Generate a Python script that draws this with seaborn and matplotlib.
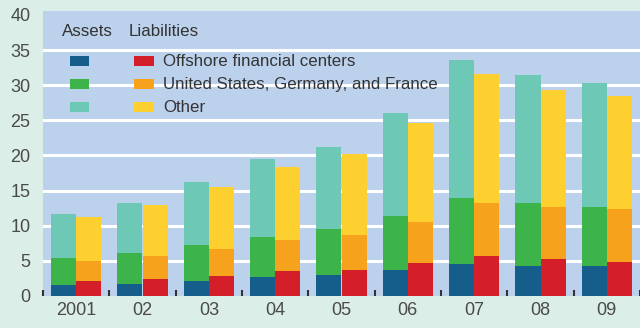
import matplotlib
matplotlib.use("Agg")
import matplotlib.pyplot as plt
from matplotlib.patches import Rectangle
import seaborn as sns
import pandas as pd
import numpy as np

years = ["2001", "02", "03", "04", "05", "06", "07", "08", "09"]
assets_offshore = [1.6, 1.7, 2.2, 2.7, 3.0, 3.7, 4.6, 4.3, 4.2]
assets_usgf = [3.8, 4.4, 5.0, 5.7, 6.5, 7.7, 9.3, 8.9, 8.5]
assets_other = [6.3, 7.1, 9.0, 11.1, 11.7, 14.7, 19.7, 18.2, 17.6]
liab_offshore = [2.2, 2.4, 2.9, 3.5, 3.7, 4.7, 5.7, 5.3, 4.9]
liab_usgf = [2.8, 3.3, 3.8, 4.4, 5.0, 5.8, 7.5, 7.3, 7.5]
liab_other = [6.3, 7.2, 8.8, 10.4, 11.5, 14.1, 18.4, 16.7, 16.1]

series_labels = ["Offshore financial centers", "United States, Germany, and France", "Other"]
asset_colors = ["#155e8c", "#3cb449", "#6dc8b6"]
liab_colors = ["#d41f2a", "#f6a21d", "#fdd02f"]

sns.set_style("white")
plt.rcParams["font.family"] = ["Liberation Sans", "DejaVu Sans"]

fig = plt.figure(figsize=(6.4, 3.28), dpi=100)
fig.patch.set_facecolor("#dbeee8")
ax = fig.add_axes([43 / 640, 32 / 328, 597 / 640, 285 / 328])
ax.set_facecolor("#bcd1ec")

a = np.array([assets_offshore, assets_usgf, assets_other])
l = np.array([liab_offshore, liab_usgf, liab_other])
a_cum = np.cumsum(a, axis=0)
l_cum = np.cumsum(l, axis=0)

for k in [2, 1, 0]:
    df = pd.DataFrame({
        "year": years * 2,
        "value": list(a_cum[k]) + list(l_cum[k]),
        "side": ["Assets"] * len(years) + ["Liabilities"] * len(years),
    })
    sns.barplot(data=df, x="year", y="value", hue="side",
                hue_order=["Assets", "Liabilities"],
                palette={"Assets": asset_colors[k], "Liabilities": liab_colors[k]},
                width=0.76, saturation=1, legend=False, ax=ax, zorder=3,
                linewidth=0, errorbar=None)

ax.set_xlim(-0.48, 8.48)
ax.set_ylim(0, 40.55)
ax.set_yticks(range(0, 45, 5))
ax.set_xlabel("")
ax.set_ylabel("")
ax.grid(axis="y", color="white", linewidth=2.2, zorder=1)
ax.grid(axis="x", visible=False)
ax.set_axisbelow(True)
glines = ax.get_ygridlines()
glines[0].set_visible(False)
glines[-1].set_visible(False)
for s in ax.spines.values():
    s.set_visible(False)

ax.tick_params(axis="y", length=0, pad=9, labelsize=13, labelcolor="#4a4a4a")
ax.tick_params(axis="x", which="major", length=0, pad=4, labelsize=13, labelcolor="#4a4a4a")
ax.set_xticks(np.arange(-0.5, 9.0, 1.0), minor=True)
ax.tick_params(axis="x", which="minor", bottom=True, direction="in", length=4,
               width=1.5, color="#333333")

# legend
def ax_xy(px, py):
    return ((px - 43) / 597, (296 - py) / 285)

tx, ty = ax_xy(62, 31)
ax.text(tx, ty, "Assets", transform=ax.transAxes, fontsize=12.2, color="#333333", va="center", ha="left", zorder=5)
tx, ty = ax_xy(129, 31)
ax.text(tx, ty, "Liabilities", transform=ax.transAxes, fontsize=12.2, color="#333333", va="center", ha="left", zorder=5)
rows = [61, 84, 107]
for k in range(3):
    x0, y0 = ax_xy(70, rows[k] + 5)
    x1, y1 = ax_xy(89, rows[k] - 5)
    ax.add_patch(Rectangle((x0, y0), x1 - x0, y1 - y0, transform=ax.transAxes,
                           facecolor=asset_colors[k], edgecolor="none", zorder=5))
    x0, y0 = ax_xy(134, rows[k] + 5)
    x1, y1 = ax_xy(154, rows[k] - 5)
    ax.add_patch(Rectangle((x0, y0), x1 - x0, y1 - y0, transform=ax.transAxes,
                           facecolor=liab_colors[k], edgecolor="none", zorder=5))
    tx, ty = ax_xy(163, rows[k])
    ax.text(tx, ty, series_labels[k], transform=ax.transAxes, fontsize=12.2,
            color="#333333", va="center", ha="left", zorder=5)

fig.savefig("out.png", dpi=100, facecolor=fig.get_facecolor())
